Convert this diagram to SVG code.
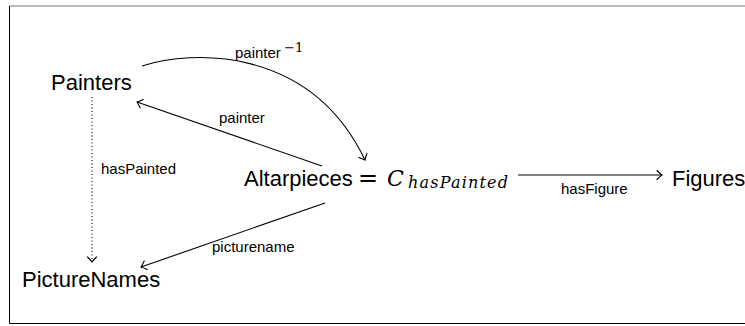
<svg xmlns="http://www.w3.org/2000/svg" width="745" height="326" viewBox="0 0 745 326">
<defs>
<marker id="to" markerUnits="userSpaceOnUse" markerWidth="14" markerHeight="14" viewBox="-8 -7 10 14" refX="0" refY="0" orient="auto">
<path d="M-5,-4.5 Q-1.5,-1 0,0 Q-1.5,1 -5,4.5" fill="none" stroke="#000" stroke-width="1.1" stroke-linecap="round"/>
</marker>
<style>
.node{font-family:"Liberation Sans","DejaVu Sans",sans-serif;font-size:22px;fill:#000}
.lbl{font-family:"Liberation Sans","DejaVu Sans",sans-serif;font-size:15px;fill:#000}
.math{font-family:"DejaVu Serif","Liberation Serif",serif;font-style:italic;fill:#000}
.edge{fill:none;stroke:#000;stroke-width:1.1}
</style>
</defs>
<rect width="745" height="326" fill="#fff"/>
<path d="M9.5,6 H760" fill="none" stroke="#777" stroke-width="1.2"/>
<path d="M9.5,6 V323.5 H760" fill="none" stroke="#000" stroke-width="1"/>
<g id="connectors">
<path class="edge" d="M142,66 C190,50 310,45 365,160" marker-end="url(#to)"/>
<path class="edge" d="M322,166 L137,102" marker-end="url(#to)"/>
<path class="edge" d="M325,203 L141,267" marker-end="url(#to)"/>
<path class="edge" d="M92,97 L92,262" stroke-dasharray="1,2.5" marker-end="url(#to)"/>
<path class="edge" d="M518,175 L662,175" marker-end="url(#to)"/>
<text class="lbl" x="235" y="58">painter</text>
<text x="284" y="52" font-family="'DejaVu Serif','Liberation Serif',serif" font-size="13">−1</text>
<text class="lbl" x="219" y="123">painter</text>
<text class="lbl" x="101" y="174">hasPainted</text>
<text class="lbl" x="212" y="252">picturename</text>
<text class="lbl" x="561" y="194">hasFigure</text>
</g>
<g id="painters"><text class="node" x="51" y="90">Painters</text></g>
<g id="altarpieces">
<text class="node" x="244" y="186">Altarpieces</text>
<text x="358" y="186" font-family="'DejaVu Sans',sans-serif" font-size="24">=</text>
<text class="math" x="387" y="186" font-size="22">C</text>
<text class="math" x="408" y="188" font-size="16" textLength="100" lengthAdjust="spacing">hasPainted</text>
</g>
<g id="figures"><text class="node" x="672" y="186">Figures</text></g>
<g id="picturenames"><text class="node" x="22" y="287">PictureNames</text></g>
</svg>
